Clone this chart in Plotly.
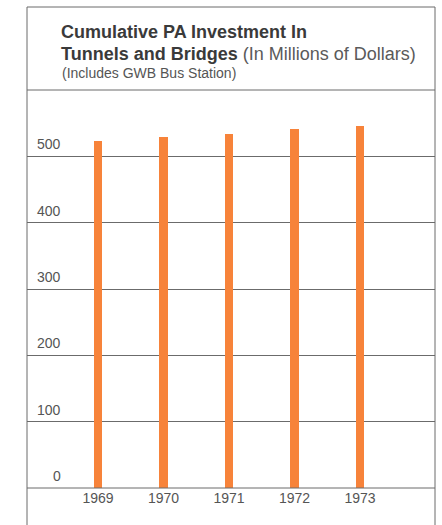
import plotly.graph_objects as go

# Cumulative Port Authority investment in tunnels and bridges, $ millions
years = [1969, 1970, 1971, 1972, 1973]
year_labels = ["1969", "1970", "1971", "1972", "1973"]
investment = [523, 529, 534, 541, 546]
y_ticks = [0, 100, 200, 300, 400, 500]
y_tick_labels = ["0", "100", "200", "300", "400", "500"]

W, H = 442, 525
L, R, T, B = 27, 7, 90, 37          # plot box in pixels
plot_h = H - T - B


def py(px_from_top):
    """Convert a pixel row (from page top) to paper y."""
    return (H - B - px_from_top) / plot_h


def px(px_from_left):
    return (px_from_left - L) / (W - L - R)


ORANGE = "#F7833A"
RULE = "#6b6b6b"
TEXT = "#555555"
FONT = "Liberation Sans, Arial, sans-serif"

fig = go.Figure(
    go.Bar(
        x=years,
        y=investment,
        width=0.137,
        marker=dict(color=ORANGE, line=dict(width=0)),
        hoverinfo="x+y",
    )
)

# y-axis labels sit just above their rule
annotations = [
    dict(
        x=px(63), y=v, xref="paper", yref="y", text=t,
        xanchor="right", yanchor="middle", yshift=12, showarrow=False,
        font=dict(family=FONT, size=14, color=TEXT),
    )
    for v, t in zip(y_ticks, y_tick_labels)
]

# Heading block
annotations += [
    dict(
        x=px(59), y=py(32), xref="paper", yref="paper",
        text="<b>Cumulative PA Investment In</b>",
        xanchor="left", yanchor="middle", showarrow=False,
        font=dict(family=FONT, size=18, color="#3a3a3a"),
    ),
    dict(
        x=px(59), y=py(54), xref="paper", yref="paper",
        text="<b>Tunnels and Bridges</b> <span style='color:#5a5a5a'>(In Millions of Dollars)</span>",
        xanchor="left", yanchor="middle", showarrow=False,
        font=dict(family=FONT, size=18, color="#3a3a3a"),
    ),
    dict(
        x=px(60), y=py(73), xref="paper", yref="paper",
        text="(Includes GWB Bus Station)",
        xanchor="left", yanchor="middle", showarrow=False,
        font=dict(family=FONT, size=14, color=TEXT),
    ),
]

# Frame: outer box and the rules closing the plot area top and bottom
frame = dict(color=RULE, width=1)
shapes = [
    dict(type="line", xref="paper", yref="paper", x0=0, x1=0, y0=py(7), y1=py(530), line=frame),
    dict(type="line", xref="paper", yref="paper", x0=1, x1=1, y0=py(7), y1=py(530), line=frame),
    dict(type="line", xref="paper", yref="paper", x0=0, x1=1, y0=py(7), y1=py(7), line=frame),
    dict(type="line", xref="paper", yref="paper", x0=0, x1=1, y0=1, y1=1, line=frame),
    dict(type="line", xref="paper", yref="paper", x0=0, x1=1, y0=0, y1=0, line=frame),
]

fig.update_layout(
    width=W,
    height=H,
    margin=dict(l=L, r=R, t=T, b=B, pad=0),
    paper_bgcolor="white",
    plot_bgcolor="white",
    showlegend=False,
    bargap=0,
    annotations=annotations,
    shapes=shapes,
    xaxis=dict(
        range=[1967.916, 1974.145],
        tickmode="array",
        tickvals=years,
        ticktext=year_labels,
        showgrid=False,
        zeroline=False,
        showline=False,
        ticks="",
        tickfont=dict(family=FONT, size=14, color=TEXT),
        fixedrange=True,
    ),
    yaxis=dict(
        range=[0, 600],
        tickmode="array",
        tickvals=y_ticks,
        showticklabels=False,
        showgrid=True,
        gridcolor=RULE,
        gridwidth=1,
        zeroline=False,
        showline=False,
        ticks="",
        fixedrange=True,
    ),
)

fig.write_html("out.html")
